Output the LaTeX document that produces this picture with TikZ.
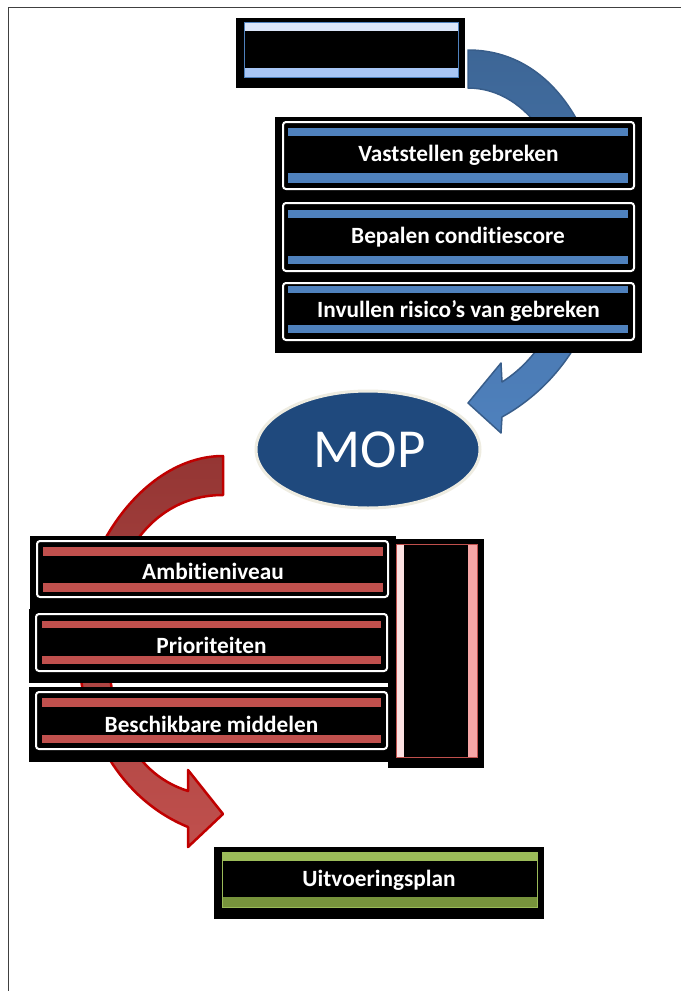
\documentclass[tikz,border=0pt]{standalone}
\usepackage{fontspec}
\setmainfont{Carlito}[Ligatures={NoCommon}]
\definecolor{bandblue}{HTML}{4F81BD}
\definecolor{toplight}{HTML}{DCE6F9}
\definecolor{topdark}{HTML}{A8C6F5}
\definecolor{redband}{HTML}{C0504D}
\definecolor{pinkl}{HTML}{FDE2E2}
\definecolor{pinkr}{HTML}{F6A6A6}
\definecolor{greenl}{HTML}{9BBB59}
\definecolor{greend}{HTML}{77933C}
\definecolor{mopfill}{HTML}{1F497D}
\definecolor{mopborder}{HTML}{EEECE1}
\definecolor{framec}{HTML}{404040}
\definecolor{barrowtop}{HTML}{3D6696}
\definecolor{barrowbot}{HTML}{4F81BD}
\definecolor{barrowline}{HTML}{385D8A}
\definecolor{rarrowtop}{HTML}{943634}
\definecolor{rarrowbot}{HTML}{C0504D}
\definecolor{rarrowline}{HTML}{C00000}
\begin{document}
\begin{tikzpicture}[x=1pt,y=-1pt,
  panel/.style={draw=white, line width=2pt, fill=black, rounded corners=3pt},
  lbl/.style={text=white, anchor=base, inner sep=0pt, font=\bfseries\fontsize{23.3}{27}\selectfont},
  bluearrow/.style={draw=barrowline, line width=1.5pt, top color=barrowtop, bottom color=barrowbot, line join=round},
  redarrow/.style={draw=rarrowline, line width=2.5pt, top color=rarrowtop, bottom color=rarrowbot, line join=round}]
\useasboundingbox (0,0) rectangle (681,991);
% page frame
\draw[framec, line width=1.5pt] (8.5,991) -- (8.5,7.5) -- (681,7.5);

% blue curved arrow
\path[bluearrow] (468,50) .. controls (558,50) and (605,145) .. (605,235)
  .. controls (605,320) and (560,385) .. (502,417) -- (501,433) -- (468,403)
  -- (501,363) -- (502,382) .. controls (545,355) and (572,300) .. (572,235)
  .. controls (572,160) and (530,88) .. (468,88) -- cycle;

% red curved arrow
\path[redarrow] (223,456) .. controls (145,456) and (78,550) .. (78,640)
  .. controls (78,730) and (122,800) .. (188,827) -- (188,847) -- (223,814)
  -- (188,770) -- (188,791) .. controls (128,772) and (108,710) .. (108,640)
  .. controls (108,560) and (152,495) .. (223,495) -- cycle;

% top box
\fill[black] (236,18) rectangle (465,88);
\fill[black] (244,22) rectangle (458,77);
\fill[toplight] (244,22) rectangle (458,31);
\fill[topdark] (244,68) rectangle (458,77);
\node[draw=bandblue, line width=0.8pt, minimum width=214pt, minimum height=55pt, inner sep=0pt] (topbox) at (351,49.5) {};

% middle group
\fill[black] (275,117) rectangle (642,353);
\draw[panel] (283,122) rectangle (634,189);
\fill[bandblue] (288,128) rectangle (628,136);
\fill[bandblue] (288,173) rectangle (628,183);
\node[lbl] (v1) at (458.5,161) {Vaststellen gebreken};
\draw[panel] (283,203) rectangle (634,271);
\fill[bandblue] (288,210) rectangle (628,218);
\fill[bandblue] (288,256) rectangle (628,264);
\node[lbl] (v2) at (458,243) {Bepalen conditiescore};
\draw[panel] (283,283) rectangle (634,340);
\fill[bandblue] (288,286) rectangle (628,293);
\fill[bandblue] (288,325) rectangle (628,333);
\node[lbl] (v3) at (458.5,317) {Invullen risico’s van gebreken};

% MOP ellipse
\draw[mopborder, line width=3pt, fill=mopfill] (368,449.5) ellipse [x radius=112, y radius=58.5];
\node[text=white, anchor=base, inner sep=0pt, font=\fontsize{55}{60}\selectfont] (mop) at (369.5,467) {MOP};

% left group
\fill[black] (30,536) rectangle (396,609);
\fill[black] (29,609) rectangle (390,683);
\fill[black] (29,687) rectangle (388,762);
\fill[black] (388,539) rectangle (484,768);
\fill[black] (396,544) rectangle (477,757);
\fill[pinkl] (396,544) rectangle (404,757);
\fill[pinkr] (468,544) rectangle (477,757);
\node[draw=redband, line width=1pt, minimum width=81pt, minimum height=213pt, inner sep=0pt] (sidebox) at (436.5,650.5) {};

\draw[panel] (37,541) rectangle (388,597);
\fill[redband] (43,547) rectangle (383,556);
\fill[redband] (43,583) rectangle (383,592);
\node[lbl] (a1) at (213,579) {Ambitieniveau};
\draw[panel] (36,614) rectangle (387,671);
\fill[redband] (42,621) rectangle (381,628);
\fill[redband] (42,656) rectangle (381,664);
\node[lbl] (a2) at (211.5,653) {Prioriteiten};
\draw[panel] (36,692) rectangle (387,749);
\fill[redband] (42,698) rectangle (381,707);
\fill[redband] (42,735) rectangle (381,743);
\node[lbl] (a3) at (211.5,732) {Beschikbare middelen};

% bottom green box
\fill[black] (214,847) rectangle (544,919);
\fill[greenl] (222,852) rectangle (537,861);
\fill[greend] (222,897) rectangle (537,907);
\node[draw=greenl, line width=1pt, minimum width=315pt, minimum height=55pt, inner sep=0pt] (planbox) at (379.5,879.5) {};
\node[lbl] (plan) at (379,886) {Uitvoeringsplan};
\end{tikzpicture}
\end{document}
